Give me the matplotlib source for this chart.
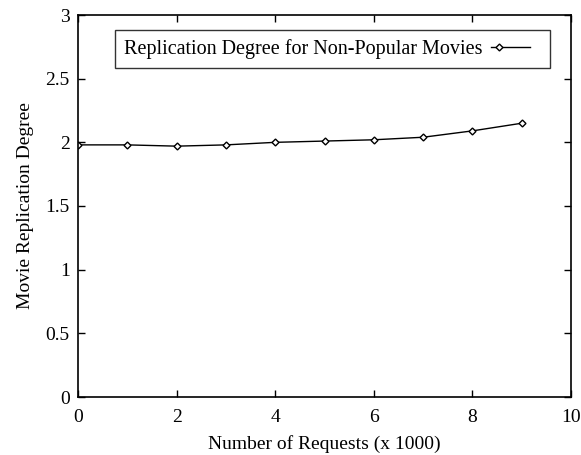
import matplotlib
matplotlib.use('Agg')
import matplotlib.pyplot as plt
from matplotlib.lines import Line2D

plt.rcParams['font.family'] = ['Liberation Serif', 'DejaVu Serif']

requests = [0, 1, 2, 3, 4, 5, 6, 7, 8, 9]
replication = [1.98, 1.98, 1.97, 1.98, 2.00, 2.01, 2.02, 2.04, 2.09, 2.15]


class GnuplotKey:
    # short sample line with the point near its left end, blank space after
    def legend_artist(self, legend, orig_handle, fontsize, handlebox):
        x0, y0 = handlebox.xdescent, handlebox.ydescent
        w, h = handlebox.width, handlebox.height
        line = Line2D([x0, x0 + 0.78 * w], [y0 + h / 2] * 2, color='black',
                      linewidth=1.0)
        pt = Line2D([x0 + 0.17 * w], [y0 + h / 2], marker='D', markersize=3.5,
                    markerfacecolor='white', markeredgecolor='black',
                    markeredgewidth=1.0, linestyle='none')
        handlebox.add_artist(line)
        handlebox.add_artist(pt)
        return line


fig = plt.figure(figsize=(5.81, 4.55), dpi=100)
ax = fig.add_axes([78 / 581, 58 / 455, 493 / 581, 382 / 455])

series, = ax.plot(requests, replication, color='black', linewidth=1.0,
                  marker='D', markersize=3.5, markerfacecolor='white',
                  markeredgecolor='black', markeredgewidth=1.0,
                  label='Replication Degree for Non-Popular Movies')

ax.set_xlim(0, 10)
ax.set_ylim(0, 3)
ax.set_xticks([0, 2, 4, 6, 8, 10])
ax.set_yticks([0, 0.5, 1, 1.5, 2, 2.5, 3])
ax.set_yticklabels(['0', '0.5', '1', '1.5', '2', '2.5', '3'])
ax.tick_params(direction='in', top=True, right=True, length=5, width=1,
               labelsize=14)
ax.tick_params(axis='x', pad=9)
ax.tick_params(axis='y', pad=6)
for s in ax.spines.values():
    s.set_linewidth(1.2)

ax.set_xlabel('Number of Requests (x 1000)', fontsize=14, labelpad=6)
ax.set_ylabel('Movie Replication Degree', fontsize=14, labelpad=8)

leg = ax.legend(handles=[series], handler_map={series: GnuplotKey()},
                loc='upper left', bbox_to_anchor=(37 / 493, 1 - 15 / 382),
                fontsize=14.5, frameon=True, fancybox=False, markerfirst=False,
                handlelength=2.5, handletextpad=0.4, borderpad=0.45,
                borderaxespad=0)
leg.get_frame().set_edgecolor('black')
leg.get_frame().set_linewidth(1.0)

plt.savefig('out.png', dpi=100)
